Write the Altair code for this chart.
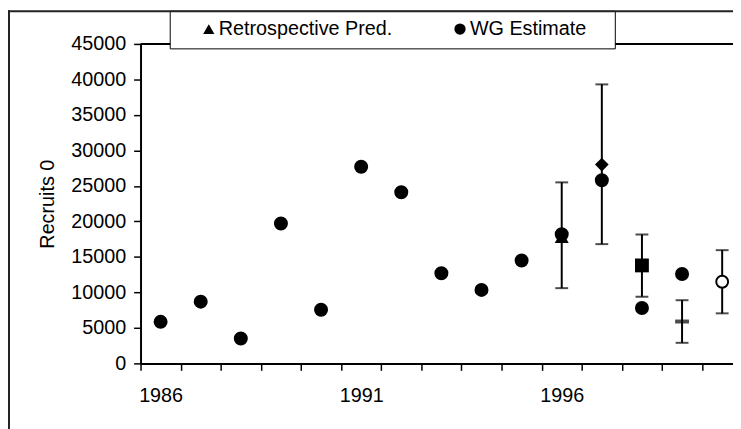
import altair as alt
import pandas as pd

# ---- data ----
wg_years = [1986, 1987, 1988, 1989, 1990, 1991, 1992, 1993, 1994, 1995, 1996, 1997, 1998, 1999]
wg_values = [5850, 8700, 3500, 19700, 7550, 27700, 24100, 12700, 10350, 14500, 18200, 25800, 7800, 12600]

retro_years = [1996]
retro_values = [17800]

diamond_years = [1997]
diamond_values = [28000]
square_years = [1998]
square_values = [13800]
dash_years = [1999]
dash_values = [5900]
open_years = [2000]
open_values = [11500]

err_years = [1996, 1997, 1998, 1999, 2000]
err_low = [10600, 16800, 9400, 2900, 7050]
err_high = [25500, 39300, 18150, 8900, 15950]

categories = list(range(1986, 2001))
x_label_years = [1986, 1991, 1996]
y_ticks = [0, 5000, 10000, 15000, 20000, 25000, 30000, 35000, 40000, 45000]
series_names = ["Retrospective Pred.", "WG Estimate"]
y_title = "Recruits 0"

FONT = "Liberation Sans"
FS = 20

# ---- tables ----
pts = pd.DataFrame({
    "year": retro_years + wg_years,
    "value": retro_values + wg_values,
    "series": [series_names[0]] * len(retro_years) + [series_names[1]] * len(wg_years),
})
err = pd.DataFrame({"year": err_years, "low": err_low, "high": err_high})
dia = pd.DataFrame({"year": diamond_years, "value": diamond_values})
sq = pd.DataFrame({"year": square_years, "value": square_values})
dash = pd.DataFrame({"year": dash_years, "value": dash_values})
opn = pd.DataFrame({"year": open_years, "value": open_values})
top = pd.DataFrame({"value": [y_ticks[-1]]})
dummy = pd.DataFrame({"a": [0]})

W, H = 599, 323
boundaries = [c - 0.5 for c in categories]

x_scale = alt.Scale(domain=[categories[0] - 0.5, categories[-1] + 0.27], nice=False, zero=False)
y_scale = alt.Scale(domain=[y_ticks[0], y_ticks[-1]], nice=False, zero=True)

label_list = "[" + ",".join(str(v) for v in x_label_years) + "]"
x_axis = alt.Axis(
    values=boundaries,
    labelExpr=f"indexof({label_list}, datum.value + 0.5) >= 0 ? format(datum.value + 0.5, 'd') : ''",
    labelOffset=20.3, labelFlush=False, labelOverlap=False, labelBound=False,
    tickSize=7, tickWidth=1.5, tickColor="black", domainColor="black", domainWidth=2,
    labelPadding=16, labelFontSize=FS, labelFont=FONT, labelColor="black",
    grid=False, title=None,
)
y_axis = alt.Axis(
    values=y_ticks, format="d", tickCount=len(y_ticks),
    tickSize=7, tickWidth=1.5, tickColor="black", domainColor="black", domainWidth=2,
    labelPadding=8, labelFontSize=FS, labelFont=FONT, labelColor="black",
    grid=False, title=y_title, titleFont=FONT, titleFontSize=FS, titleFontWeight="normal",
    titleColor="black", titleX=-94, titleY=H / 2, titleAlign="center", titleBaseline="middle",
    labelOverlap=False, labelFlush=False,
)

def X(field="year"):
    return alt.X(f"{field}:Q", scale=x_scale, axis=x_axis)

def Y(field="value"):
    return alt.Y(f"{field}:Q", scale=y_scale, axis=y_axis)

top_line = alt.Chart(top).mark_rule(color="black", strokeWidth=2).encode(y=Y())

err_rule = alt.Chart(err).mark_rule(color="black", strokeWidth=2).encode(
    x=X(), y=Y("low"), y2="high:Q")
cap_lo = alt.Chart(err).mark_tick(color="black", orient="horizontal", size=13, thickness=2).encode(
    x=X(), y=Y("low"))
cap_hi = alt.Chart(err).mark_tick(color="black", orient="horizontal", size=13, thickness=2).encode(
    x=X(), y=Y("high"))

main_pts = alt.Chart(pts).mark_point(filled=True, color="black", size=200, opacity=1).encode(
    x=X(), y=Y(),
    shape=alt.Shape("series:N",
                    scale=alt.Scale(domain=series_names, range=["triangle-up", "circle"]),
                    legend=alt.Legend(orient="none", legendX=59, legendY=-25, direction="horizontal",
                                      title=None, labelFontSize=FS, labelFont=FONT, labelColor="black",
                                      labelLimit=400,
                                      symbolSize=130, symbolFillColor="black", symbolStrokeColor="black",
                                      symbolStrokeWidth=0, labelOffset=0, columnPadding=58, padding=0)),
    order=alt.Order("series:N", sort="ascending"),
)

dia_pt = alt.Chart(dia).mark_point(shape="diamond", filled=True, color="black", size=190, opacity=1).encode(x=X(), y=Y())
sq_pt = alt.Chart(sq).mark_point(shape="square", filled=True, color="black", size=196, opacity=1).encode(x=X(), y=Y())
dash_pt = alt.Chart(dash).mark_tick(color="black", orient="horizontal", size=14, thickness=4).encode(x=X(), y=Y())
open_pt = alt.Chart(opn).mark_point(shape="circle", filled=False, fill="white", fillOpacity=1,
                                    stroke="black", strokeWidth=2, size=144, opacity=1).encode(x=X(), y=Y())

legend_box = alt.Chart(dummy).mark_rect(fill="white", stroke="black", strokeWidth=1).encode(
    x=alt.value(30), x2=alt.value(480), y=alt.value(-33), y2=alt.value(5))

frame_left = alt.Chart(dummy).mark_rule(color="#222222", strokeWidth=2).encode(
    x=alt.value(-133), y=alt.value(-34), y2=alt.value(H + 70))
frame_top = alt.Chart(dummy).mark_rule(color="#222222", strokeWidth=2).encode(
    x=alt.value(-134), x2=alt.value(W), y=alt.value(-33))

chart = alt.layer(
    top_line, err_rule, cap_lo, cap_hi, main_pts, dia_pt, sq_pt, dash_pt, open_pt,
    legend_box, frame_left, frame_top,
).properties(
    width=W, height=H,
    autosize=alt.AutoSizeParams(type="none"),
    padding={"left": 134, "top": 34, "right": 0, "bottom": 64},
    background="white",
).configure_view(strokeWidth=0)

chart.save("out.html", embed_options={"renderer": "svg", "actions": False})
